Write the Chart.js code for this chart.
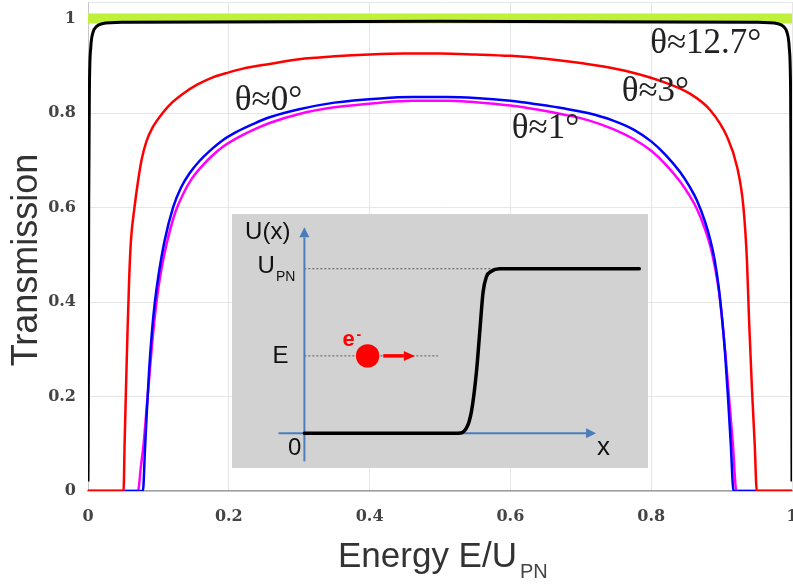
<!DOCTYPE html>
<html lang="en">
<head>
<meta charset="UTF-8">
<title>Transmission vs energy</title>
<script src="https://cdn.jsdelivr.net/npm/chart.js"></script>
<style>
  html, body { margin: 0; padding: 0; background: #fff; }
  #wrap { position: relative; width: 793px; height: 584px; }
  #main { position: absolute; left: 0; top: 0; }
  #inset { position: absolute; background: #d2d2d2; }
</style>
</head>
<body>
<div id="wrap">
  <canvas id="main" width="793" height="584"></canvas>
  <canvas id="inset"></canvas>
</div>
<script>
// values
const xTicks = [0, 0.2, 0.4, 0.6, 0.8, 1];
const yTicks = [0, 0.2, 0.4, 0.6, 0.8, 1];

// theta ~ 12.7 deg
const greenX = [0, 1];
const greenT = [1, 1];
const blackX = [0, 0.0005, 0.001, 0.002, 0.004, 0.007, 0.012, 0.02, 0.05, 0.5, 0.95, 0.98, 0.988, 0.993, 0.996, 0.998, 0.999, 1];
const blackT = [0.02, 0.2, 0.6, 0.85, 0.94, 0.97, 0.983, 0.989, 0.992, 0.994, 0.992, 0.989, 0.983, 0.97, 0.94, 0.85, 0.6, 0.02];

// theta ~ 3 deg
const redX = [0, 0.0505, 0.052, 0.054, 0.056, 0.0585, 0.061, 0.066, 0.071, 0.076, 0.083, 0.092, 0.106, 0.12, 0.135, 0.155, 0.173, 0.20, 0.22, 0.258, 0.30, 0.35, 0.40, 0.45, 0.50, 0.55, 0.60, 0.65, 0.70, 0.73, 0.77, 0.817, 0.855, 0.884, 0.908, 0.922, 0.931, 0.936, 0.939, 0.943, 0.947, 0.950, 1];
const redT = [0, 0, 0.1, 0.22, 0.33, 0.45, 0.53, 0.60, 0.655, 0.70, 0.74, 0.77, 0.80, 0.823, 0.841, 0.86, 0.873, 0.886, 0.894, 0.904, 0.914, 0.92, 0.924, 0.926, 0.926, 0.924, 0.921, 0.915, 0.906, 0.899, 0.887, 0.866, 0.841, 0.806, 0.749, 0.686, 0.601, 0.488, 0.362, 0.22, 0.1, 0, 0];

// theta ~ 1 deg
const blueX = [0, 0.078, 0.081, 0.084, 0.087, 0.091, 0.095, 0.100, 0.109, 0.121, 0.132, 0.144, 0.158, 0.173, 0.190, 0.211, 0.235, 0.258, 0.30, 0.35, 0.415, 0.46, 0.509, 0.55, 0.60, 0.64, 0.675, 0.71, 0.746, 0.775, 0.80, 0.82, 0.841, 0.855, 0.865, 0.876, 0.884, 0.890, 0.896, 0.901, 0.905, 0.909, 0.913, 0.917, 1];
const blueT = [0, 0, 0.09, 0.18, 0.26, 0.34, 0.40, 0.455, 0.531, 0.601, 0.642, 0.672, 0.698, 0.72, 0.741, 0.76, 0.777, 0.791, 0.808, 0.822, 0.831, 0.834, 0.834, 0.832, 0.826, 0.818, 0.81, 0.80, 0.784, 0.765, 0.740, 0.712, 0.675, 0.643, 0.615, 0.572, 0.531, 0.49, 0.43, 0.36, 0.29, 0.2, 0.1, 0, 0];

// theta ~ 0 deg
const magX = [0, 0.071, 0.075, 0.079, 0.083, 0.087, 0.091, 0.095, 0.100, 0.105, 0.112, 0.124, 0.135, 0.147, 0.161, 0.176, 0.193, 0.214, 0.237, 0.258, 0.30, 0.35, 0.415, 0.46, 0.509, 0.55, 0.60, 0.64, 0.675, 0.71, 0.746, 0.775, 0.80, 0.82, 0.841, 0.855, 0.865, 0.876, 0.884, 0.890, 0.896, 0.901, 0.906, 0.911, 0.916, 0.921, 1];
const magT = [0, 0, 0.05, 0.1, 0.17, 0.24, 0.31, 0.37, 0.43, 0.475, 0.525, 0.59, 0.628, 0.66, 0.686, 0.709, 0.73, 0.749, 0.766, 0.779, 0.798, 0.812, 0.822, 0.826, 0.826, 0.823, 0.816, 0.807, 0.797, 0.785, 0.766, 0.745, 0.72, 0.692, 0.655, 0.624, 0.597, 0.556, 0.518, 0.478, 0.425, 0.36, 0.28, 0.19, 0.1, 0, 0];

// inset: potential step U(x), in units of U_PN
const stepX = [0, 0.885, 0.933, 0.962, 0.991, 1.010, 1.029, 1.048, 1.077, 1.125, 1.929];
const stepU = [0, 0, 0.03, 0.131, 0.373, 0.616, 0.857, 0.950, 0.985, 1.0, 1.0];
const energyE = 0.47;
const barrierU = 1;
const electronX = 0.364;

const curveNotes = [
  { text: 'θ≈12.7°', at: [0.7985, 0.927] },
  { text: 'θ≈3°', at: [0.758, 0.8245] },
  { text: 'θ≈0°', at: [0.2085, 0.806] },
  { text: 'θ≈1°', at: [0.602, 0.747] }
];

const yTop = 1.035;
const toPts = (xs, ys) => xs.map((x, i) => ({ x, y: ys[i] }));
const curve = (label, xs, ys, color, width) => ({
  label, data: toPts(xs, ys), borderColor: color, borderWidth: width,
  pointRadius: 0, fill: false, cubicInterpolationMode: 'monotone'
});

const tickFont = { family: 'DejaVu Serif', weight: 'bold', size: 16 };

const figureText = {
  id: 'figureText',
  afterDatasetsDraw(chart) {
    const { ctx, scales: { x, y } } = chart;
    ctx.save();
    ctx.textBaseline = 'alphabetic';
    ctx.fillStyle = '#222';
    ctx.font = '35px "Liberation Serif"';
    curveNotes.forEach(n => {
      ctx.fillText(n.text, x.getPixelForValue(n.at[0]), y.getPixelForValue(n.at[1]));
    });

    // axis titles
    ctx.fillStyle = '#333';
    ctx.font = '36px "Liberation Sans"';
    ctx.save();
    ctx.translate(37, 260);
    ctx.rotate(-Math.PI / 2);
    ctx.textAlign = 'center';
    ctx.fillText('Transmission', 0, 0);
    ctx.restore();

    ctx.font = '35px "Liberation Sans"';
    const main = 'Energy E/U';
    ctx.fillText(main, 338, 567);
    const w = ctx.measureText(main).width;
    ctx.font = '20px "Liberation Sans"';
    ctx.fillStyle = '#444';
    ctx.fillText('PN', 338 + w + 3, 578);
    ctx.restore();
  }
};

const mainChart = new Chart(document.getElementById('main'), {
  type: 'line',
  data: {
    datasets: [
      curve('θ≈12.7° (edge)', blackX, blackT, '#000000', 3),
      curve('θ≈12.7°', greenX, greenT, '#bff03a', 10),
      curve('θ≈3°', redX, redT, '#ff0000', 2.5),
      curve('θ≈1°', blueX, blueT, '#0000ff', 2.5),
      curve('θ≈0°', magX, magT, '#ff00ff', 2.5)
    ]
  },
  options: {
    responsive: false,
    animation: false,
    devicePixelRatio: 1,
    events: [],
    layout: { autoPadding: false, padding: { top: 2, right: 1, left: 0, bottom: 0 } },
    plugins: { legend: { display: false }, tooltip: { enabled: false } },
    scales: {
      x: {
        type: 'linear', min: 0, max: 1,
        afterBuildTicks: s => { s.ticks = xTicks.map(v => ({ value: v })); },
        afterFit: s => { s.height = 93; s.paddingLeft = 0; s.paddingRight = 0; },
        grid: { color: '#e6e6e6', drawTicks: false },
        border: { color: '#a0a0a0', width: 1.5 },
        ticks: { font: tickFont, color: '#444', padding: 16, maxRotation: 0,
                 callback: v => String(v) }
      },
      y: {
        type: 'linear', min: 0, max: yTop,
        afterBuildTicks: s => { s.ticks = yTicks.concat([yTop]).map(v => ({ value: v })); },
        afterFit: s => { s.width = 88; s.paddingTop = 0; s.paddingBottom = 0; },
        grid: { color: '#e6e6e6', drawTicks: false },
        border: { color: '#c8c8c8', width: 1 },
        ticks: { font: tickFont, color: '#444', padding: 12,
                 callback: v => (yTicks.includes(v) ? String(v) : '') }
      }
    }
  },
  plugins: [figureText]
});

// ---- inset with the potential step ----
const insetBox = [0.204, 0.796, 0.048, 0.587]; // in main data units
const insetCanvas = document.getElementById('inset');
{
  const sx = mainChart.scales.x, sy = mainChart.scales.y;
  const l = Math.round(sx.getPixelForValue(insetBox[0]));
  const r = Math.round(sx.getPixelForValue(insetBox[1]));
  const t = Math.round(sy.getPixelForValue(insetBox[3]));
  const b = Math.round(sy.getPixelForValue(insetBox[2]));
  insetCanvas.width = r - l;
  insetCanvas.height = b - t;
  insetCanvas.style.left = l + 'px';
  insetCanvas.style.top = t + 'px';
}

function arrow(ctx, x0, y0, x1, y1, color, width, head, half) {
  const a = Math.atan2(y1 - y0, x1 - x0);
  ctx.save();
  ctx.strokeStyle = color;
  ctx.fillStyle = color;
  ctx.lineWidth = width;
  ctx.beginPath();
  ctx.moveTo(x0, y0);
  ctx.lineTo(x1 - head * Math.cos(a), y1 - head * Math.sin(a));
  ctx.stroke();
  ctx.translate(x1, y1);
  ctx.rotate(a);
  ctx.beginPath();
  ctx.moveTo(0, 0);
  ctx.lineTo(-head, -half);
  ctx.lineTo(-head, half);
  ctx.closePath();
  ctx.fill();
  ctx.restore();
}

const insetDecor = {
  id: 'insetDecor',
  beforeDatasetsDraw(chart) {
    const { ctx, scales: { x, y } } = chart;
    const ox = x.getPixelForValue(0), oy = y.getPixelForValue(0);
    // dotted guide lines
    ctx.save();
    ctx.strokeStyle = '#555';
    ctx.lineWidth = 1;
    ctx.setLineDash([2, 2]);
    ctx.beginPath();
    ctx.moveTo(ox, y.getPixelForValue(barrierU));
    ctx.lineTo(x.getPixelForValue(1.1), y.getPixelForValue(barrierU));
    ctx.moveTo(ox, y.getPixelForValue(energyE));
    ctx.lineTo(x.getPixelForValue(0.77), y.getPixelForValue(energyE));
    ctx.stroke();
    ctx.restore();
    // axes with arrowheads
    arrow(ctx, ox, y.getPixelForValue(-0.172), ox, y.getPixelForValue(1.252), '#4a7ebb', 2, 10, 5);
    arrow(ctx, x.getPixelForValue(-0.149), oy, x.getPixelForValue(1.68), oy, '#4a7ebb', 2, 10, 5);
  },
  afterDatasetsDraw(chart) {
    const { ctx, scales: { x, y } } = chart;
    const ox = x.getPixelForValue(0), oy = y.getPixelForValue(0);
    const ey = y.getPixelForValue(energyE), uy = y.getPixelForValue(barrierU);
    // electron motion arrow
    arrow(ctx, x.getPixelForValue(0.454), ey, x.getPixelForValue(0.636), ey, '#ff0000', 3.5, 11, 5);

    ctx.save();
    ctx.fillStyle = '#111';
    ctx.textBaseline = 'alphabetic';
    ctx.font = '24px "Liberation Sans"';
    ctx.textAlign = 'right';
    ctx.fillText('U(x)', ox - 14, y.getPixelForValue(1.252) + 12);
    ctx.fillText('E', ox - 16, ey + 7);
    ctx.fillText('0', ox - 3, oy + 22);
    // U_PN
    ctx.font = '14px "Liberation Sans"';
    const pnW = ctx.measureText('PN').width;
    ctx.fillText('PN', ox - 9, uy + 12);
    ctx.font = '24px "Liberation Sans"';
    ctx.fillText('U', ox - 9 - pnW - 1, uy + 4);
    ctx.textAlign = 'left';
    ctx.font = '26px "Liberation Sans"';
    ctx.fillText('x', x.getPixelForValue(1.68) + 1, oy + 22);
    // electron label
    const ex = x.getPixelForValue(electronX);
    ctx.fillStyle = '#ff0000';
    ctx.font = 'bold 22px "Liberation Sans"';
    ctx.fillText('e', ex - 25, ey - 10);
    ctx.font = 'bold 14px "Liberation Sans"';
    ctx.fillText('-', ex - 11, ey - 17);
    ctx.restore();
  }
};

new Chart(insetCanvas, {
  type: 'line',
  data: {
    datasets: [
      { label: 'U(x)', data: toPts(stepX, stepU), borderColor: '#000', borderWidth: 3.5,
        pointRadius: 0, fill: false, cubicInterpolationMode: 'monotone', borderCapStyle: 'round' },
      { type: 'scatter', label: 'e-', data: [{ x: electronX, y: energyE }],
        pointRadius: 11.7, backgroundColor: '#ff0000', borderWidth: 0 }
    ]
  },
  options: {
    responsive: false,
    animation: false,
    devicePixelRatio: 1,
    events: [],
    layout: { autoPadding: false, padding: 0 },
    plugins: { legend: { display: false }, tooltip: { enabled: false } },
    scales: {
      x: { type: 'linear', display: false, min: -0.417, max: 1.979 },
      y: { type: 'linear', display: false, min: -0.212, max: 1.333 }
    }
  },
  plugins: [insetDecor]
});
</script>
</body>
</html>
